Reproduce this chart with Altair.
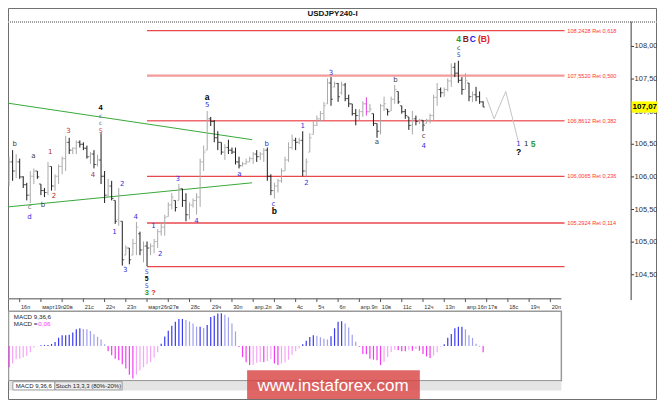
import altair as alt
import pandas as pd

# ---------------- values ----------------
bar_open = [
    105.94, 106.23, 106.09, 106.23, 106.00, 105.88, 105.72, 106.01, 106.09, 105.89,
    105.79, 105.76, 106.16, 105.86, 106.01, 106.16, 106.28, 106.53, 106.41, 106.44,
    106.53, 106.50, 106.44, 106.31, 106.35, 106.19, 106.26, 106.01, 105.72, 105.86,
    105.64, 105.35, 105.32, 104.80, 104.91, 104.80, 104.98, 105.13, 104.88, 104.94,
    104.91, 104.94, 105.01, 105.16, 105.23, 105.39, 105.57, 105.64, 105.64, 105.82,
    105.64, 105.42, 105.57, 105.64, 105.69, 106.23, 106.41, 106.89, 106.85, 106.60,
    106.53, 106.38, 106.45, 106.41, 106.38, 106.23, 106.17, 106.20, 106.23, 106.28,
    106.35, 106.31, 106.35, 106.41, 106.01, 105.79, 105.86, 105.94, 106.09, 106.26,
    106.45, 106.56, 106.53, 106.56, 106.09, 106.38, 106.65, 106.79, 106.89, 106.97,
    107.12, 107.44, 107.38, 107.43, 107.29, 107.41, 107.20, 107.12, 106.97, 106.94,
    107.00, 107.12, 107.00, 106.97, 106.82, 106.70, 107.09, 107.04, 107.01, 107.19,
    107.31, 107.09, 107.00, 106.92, 106.79, 106.89, 106.85, 106.87, 106.82, 106.87,
    106.94, 107.22, 107.34, 107.29, 107.34, 107.47, 107.68, 107.59, 107.48, 107.34,
    107.44, 107.23, 107.26, 107.23, 107.15]
bar_high = [
    106.31, 106.41, 106.35, 106.28, 106.01, 105.91, 106.09, 106.13, 106.09, 105.89,
    105.83, 106.23, 106.16, 106.04, 106.19, 106.31, 106.63, 106.60, 106.45, 106.56,
    106.56, 106.53, 106.48, 106.38, 106.41, 106.34, 106.67, 106.09, 105.97, 105.94,
    105.64, 105.83, 105.32, 104.95, 104.91, 105.05, 105.31, 105.16, 105.01, 105.01,
    104.98, 105.05, 105.20, 105.31, 105.42, 105.61, 105.75, 105.64, 105.89, 105.82,
    105.75, 105.61, 105.67, 105.75, 106.28, 106.48, 107.01, 106.92, 106.87, 106.70,
    106.53, 106.50, 106.57, 106.45, 106.45, 106.31, 106.23, 106.28, 106.31, 106.38,
    106.41, 106.38, 106.44, 106.45, 106.04, 105.91, 105.97, 106.13, 106.31, 106.53,
    106.65, 106.60, 106.60, 106.70, 106.28, 106.67, 106.85, 106.94, 107.01, 107.15,
    107.51, 107.53, 107.46, 107.44, 107.46, 107.44, 107.26, 107.12, 107.04, 107.04,
    107.16, 107.22, 107.12, 106.97, 106.82, 107.12, 107.23, 107.04, 107.23, 107.41,
    107.31, 107.09, 107.04, 106.92, 107.01, 106.94, 106.89, 106.87, 106.89, 106.97,
    107.26, 107.44, 107.37, 107.37, 107.51, 107.74, 107.75, 107.78, 107.53, 107.59,
    107.44, 107.31, 107.38, 107.31, 107.16]
bar_low = [
    105.86, 105.94, 105.98, 105.97, 105.83, 105.64, 105.60, 105.89, 105.97, 105.72,
    105.69, 105.72, 105.79, 105.79, 105.89, 106.04, 106.09, 106.35, 106.35, 106.35,
    106.45, 106.41, 106.28, 106.20, 106.13, 106.16, 105.89, 105.60, 105.69, 105.64,
    105.28, 105.25, 104.64, 104.80, 104.66, 104.80, 104.80, 104.80, 104.69, 104.63,
    104.80, 104.83, 104.91, 105.10, 105.10, 105.39, 105.50, 105.47, 105.64, 105.54,
    105.32, 105.35, 105.53, 105.42, 105.54, 106.09, 106.41, 106.78, 106.53, 106.41,
    106.34, 106.26, 106.35, 106.35, 106.19, 106.13, 106.16, 106.19, 106.23, 106.20,
    106.23, 106.26, 106.23, 105.94, 105.72, 105.67, 105.76, 105.91, 106.09, 106.23,
    106.42, 106.41, 106.50, 106.01, 106.01, 106.38, 106.65, 106.78, 106.85, 106.87,
    107.12, 107.09, 107.37, 107.15, 107.26, 107.16, 107.07, 106.94, 106.79, 106.87,
    106.92, 106.94, 107.00, 106.78, 106.60, 106.65, 107.01, 106.94, 107.01, 107.12,
    107.12, 106.97, 106.89, 106.72, 106.65, 106.79, 106.81, 106.70, 106.82, 106.82,
    106.85, 107.09, 107.22, 107.23, 107.31, 107.38, 107.53, 107.44, 107.26, 107.34,
    107.16, 107.15, 107.16, 107.12, 107.07]
bar_close = [
    106.23, 106.09, 106.23, 106.00, 105.88, 105.72, 106.01, 106.09, 106.00, 105.79,
    105.76, 106.16, 105.86, 106.01, 106.16, 106.28, 106.53, 106.41, 106.44, 106.53,
    106.50, 106.44, 106.31, 106.35, 106.19, 106.26, 106.01, 105.72, 105.86, 105.67,
    105.32, 105.72, 104.73, 104.91, 104.73, 104.98, 105.23, 104.88, 104.94, 104.91,
    104.94, 105.01, 105.16, 105.23, 105.38, 105.57, 105.69, 105.53, 105.82, 105.64,
    105.42, 105.57, 105.64, 105.69, 106.23, 106.38, 106.89, 106.85, 106.60, 106.53,
    106.38, 106.45, 106.41, 106.38, 106.23, 106.17, 106.20, 106.23, 106.28, 106.35,
    106.31, 106.35, 106.41, 106.01, 105.79, 105.86, 105.94, 106.09, 106.26, 106.45,
    106.56, 106.53, 106.56, 106.09, 106.23, 106.60, 106.79, 106.89, 106.97, 107.09,
    107.44, 107.19, 107.43, 107.23, 107.41, 107.20, 107.12, 106.97, 106.94, 107.00,
    107.12, 107.00, 107.04, 106.82, 106.70, 107.09, 107.12, 107.00, 107.19, 107.34,
    107.15, 107.00, 106.94, 106.79, 106.89, 106.85, 106.87, 106.79, 106.87, 106.94,
    107.22, 107.34, 107.29, 107.34, 107.47, 107.68, 107.59, 107.48, 107.34, 107.48,
    107.23, 107.26, 107.23, 107.15, 107.071]
marked_bar = 101  # the one bar drawn in magenta

macd_hist = [
    -0.200, -0.165, -0.126, -0.120, -0.110, -0.096, -0.060, -0.015, -0.003, 0.006,
    0.009, 0.009, 0.018, 0.036, 0.075, 0.100, 0.100, 0.105, 0.126, 0.156,
    0.165, 0.159, 0.156, 0.140, 0.108, 0.084, 0.060, 0.015, -0.051, -0.087,
    -0.120, -0.135, -0.171, -0.213, -0.270, -0.306, -0.270, -0.231, -0.200, -0.171,
    -0.153, -0.111, -0.060, 0.021, 0.087, 0.141, 0.189, 0.225, 0.252, 0.252,
    0.243, 0.228, 0.210, 0.180, 0.180, 0.168, 0.195, 0.270, 0.282, 0.303,
    0.306, 0.291, 0.267, 0.210, 0.135, -0.010, -0.105, -0.153, -0.180, -0.177,
    -0.159, -0.150, -0.150, -0.141, -0.123, -0.165, -0.180, -0.165, -0.156, -0.129,
    -0.084, -0.051, -0.024, 0.015, 0.048, 0.084, 0.099, 0.096, 0.081, 0.066,
    0.060, 0.090, 0.165, 0.225, 0.231, 0.210, 0.171, 0.105, 0.039, -0.009,
    -0.075, -0.078, -0.120, -0.129, -0.135, -0.180, -0.150, -0.105, -0.057, -0.033,
    -0.042, -0.051, -0.051, -0.039, -0.045, -0.030, -0.045, -0.075, -0.099, -0.114,
    -0.090, -0.060, -0.009, 0.015, 0.075, 0.111, 0.165, 0.180, 0.180, 0.156,
    0.099, 0.075, 0.021, -0.006, -0.060]

day_tick_bar = [3, 9, 15, 21, 27, 33, 39, 45, 51, 57, 63, 69, 75, 81, 87, 93, 99,
                105, 111, 117, 123, 129, 135, 141, 147, 153]
day_tick_text = ["16п", "март19п", "20в", "21с", "22ч", "23п", "март26п", "27в", "28с",
                 "29ч", "30п", "апр.2п", "3в", "4с", "5ч", "6п", "апр.9п", "10в", "11с",
                 "12ч", "13п", "апр.16п", "17в", "18с", "19ч", "20п"]

price_ticks = [108.0, 107.5, 107.0, 106.5, 106.0, 105.5, 105.0, 104.5]
price_tick_text = ["108,000", "107,500", "107,000", "106,500", "106,000",
                   "105,500", "105,000", "104,500"]
last_price = 107.071
last_price_text = "107,071"

fib_levels = [108.2428, 107.5520, 106.8612, 106.0065, 105.2924, 104.6250]
fib_text = ["108,2428 Ret 0,618", "107,5520 Ret 0,500", "106,8612 Ret 0,382",
            "106,0065 Ret 0,236", "105,2924 Ret 0,114", ""]
fib_from_bar = 39
fib_to_bar = 157
fib_label_bar = 157.8

trend_upper_bar = [-0.3, 68.7]
trend_upper_price = [107.13, 106.57]
trend_lower_bar = [-0.3, 68.7]
trend_lower_price = [105.54, 105.91]
forecast_bar = [134.9, 137.1, 140.4, 144.0]
forecast_price = [107.22, 106.89, 107.31, 106.53]

# wave labels: position (bar, price), text, colour, font size
wave_bar = [1.6, 6.9, 5.8, 5.8, 9.6, 11.6, 12.7, 16.8, 23.7, 25.9, 25.9, 25.9,
            29.8, 32.0, 32.8, 35.8, 38.9, 38.9, 40.8, 42.7, 47.7, 53.0, 56.0, 65.1,
            72.8, 74.7, 83.0, 84.1, 91.0, 104.0, 109.2, 117.2, 117.2, 127.1, 127.1,
            144.0, 146.2]
wave_price = [106.50, 106.32, 105.54, 105.39, 105.57, 106.38, 105.70, 106.70, 106.03,
              106.94, 106.83, 106.71, 105.16, 105.89, 104.57, 105.38, 104.54, 104.33,
              105.25, 104.82, 105.97, 105.33, 107.10, 106.04, 106.51, 105.59, 106.78,
              105.91, 107.60, 106.53, 107.48, 106.62, 106.48, 107.98, 107.87, 106.50,
              106.50]
wave_text = ["b", "a", "c", "d", "b", "1", "2", "3", "4", "c", "c", "5",
             "1", "2", "3", "4", "5", "5", "1", "2", "3", "4", "5", "a",
             "b", "c", "1", "2", "3", "a", "b", "c", "4", "c", "5", "1", "1"]
wave_color = ["#404040", "#404040", "#707070", "#3030e0", "#404040", "#b03030",
              "#b03030", "#c03030", "#b03030", "#5050e0", "#707070", "#c03030",
              "#3030e0", "#3030e0", "#3030e0", "#3030e0", "#3030e0", "#3030e0",
              "#3030e0", "#3030e0", "#3030e0", "#3030e0", "#3030e0", "#3030e0",
              "#3030e0", "#3030e0", "#3030e0", "#3030e0", "#3030e0", "#404040",
              "#404040", "#404040", "#3030e0", "#202020", "#3030e0", "#3030e0",
              "#202020"]
wave_size = [7, 7, 7, 7, 7, 7, 7, 7, 7, 6, 6, 6.3,
             7, 7, 7, 7, 6.3, 6.3, 7, 7, 7, 7, 7, 7,
             7, 7, 7, 7, 7, 7, 7, 7, 7, 6.2, 6.2, 7, 7]

bold_bar = [25.9, 38.9, 38.9, 40.8, 56.0, 75.0, 127.1, 129.1, 131.1, 134.2, 144.0, 148.1]
bold_price = [107.06, 104.436, 104.215, 104.215, 107.22, 105.47, 108.12, 108.12, 108.12,
              108.12, 106.38, 106.50]
bold_text = ["4", "5", "3", "?", "a", "b", "4", "B", "C", "(B)", "?", "5"]
bold_color = ["#000000", "#000000", "#2a9a2a", "#e02020", "#000000", "#000000",
              "#2a9a2a", "#8b1a1a", "#2020e0", "#e02020", "#000000", "#2a9a2a"]
bold_size = [7.5, 6.8, 7.3, 7.3, 8.5, 8.5, 8.5, 8.5, 8.5, 8.5, 8.5, 8.5]

# ---------------- layout (reference is 665 x 408, drawn into 649 x 392) -------------
W, H = 649, 392
SX, SY = W / 665, H / 408
FONT = "Liberation Sans"

xs = alt.Scale(domain=[-0.3034, 183.145], nice=False, zero=False)
ps = alt.Scale(domain=[102.580, 108.589], nice=False, zero=False)
ms = alt.Scale(domain=[-0.507, 3.165], nice=False, zero=False)


def X(f):
    return alt.X(f, type="quantitative", scale=xs, axis=None)


def Y(f):
    return alt.Y(f, type="quantitative", scale=ps, axis=None)


def YM(f):
    return alt.Y(f, type="quantitative", scale=ms, axis=None)


one = pd.DataFrame({"k": [0]})


def rect(x1, y1, x2, y2, **kw):
    return alt.Chart(one).mark_rect(**kw).encode(
        x=alt.value(x1 * SX), x2=alt.value(x2 * SX),
        y=alt.value(y1 * SY), y2=alt.value(y2 * SY))


def hline(x1, x2, y, **kw):
    return alt.Chart(one).mark_rule(**kw).encode(
        x=alt.value(x1 * SX), x2=alt.value(x2 * SX), y=alt.value(y * SY))


def vline(x, y1, y2, **kw):
    return alt.Chart(one).mark_rule(**kw).encode(
        x=alt.value(x * SX), y=alt.value(y1 * SY), y2=alt.value(y2 * SY))


def label(x, y, text, **kw):
    kw.setdefault("font", FONT)
    kw.setdefault("baseline", "middle")
    return alt.Chart(one).mark_text(text=text, **kw).encode(
        x=alt.value(x * SX), y=alt.value(y * SY))


# ---------------- tables ----------------
n = len(bar_close)
bars = pd.DataFrame({"i": list(range(n)), "o": bar_open, "h": bar_high,
                     "l": bar_low, "c": bar_close})
bars["col"] = ["#a9a9a9" if c >= o else "#1c1c1c" for o, c in zip(bar_open, bar_close)]
bars.loc[marked_bar, "col"] = "#e040e0"

prev = [macd_hist[0]] + macd_hist[:-1]
mcol = []
for v, p in zip(macd_hist, prev):
    if v >= 0:
        mcol.append("#3a3af0" if v >= p else "#a0a0ee")
    else:
        mcol.append("#f23cf2" if v <= p else "#f7a6f7")
macd = pd.DataFrame({"i": list(range(n)), "v": macd_hist, "zero": [0.0] * n, "col": mcol})

fib = pd.DataFrame({"p": fib_levels, "t": fib_text,
                    "a": [fib_from_bar] * len(fib_levels), "b": [fib_to_bar] * len(fib_levels),
                    "lb": [fib_label_bar] * len(fib_levels),
                    "col": ["#e8474c", "#f39a9a", "#ee6a6e", "#e8474c", "#e8474c", "#e8474c"],
                    "sw": [1.2, 2.2, 1.4, 1.2, 1.6, 1.2]})
trend = pd.DataFrame({"i": trend_upper_bar + trend_lower_bar,
                      "p": trend_upper_price + trend_lower_price,
                      "g": ["u", "u", "d", "d"]})
fc = pd.DataFrame({"i": forecast_bar, "p": forecast_price})
waves = pd.DataFrame({"i": wave_bar, "p": wave_price, "t": wave_text, "col": wave_color,
                      "s": wave_size})
bolds = pd.DataFrame({"i": bold_bar, "p": bold_price, "t": bold_text, "col": bold_color,
                      "s": bold_size})
dticks = pd.DataFrame({"i": day_tick_bar, "t": day_tick_text})
pticks = pd.DataFrame({"p": price_ticks, "t": price_tick_text})
lastp = pd.DataFrame({"p": [last_price], "t": [last_price_text]})

layers = []
# frame and header
layers.append(rect(0.5, 0.5, 664.5, 407.5, fill="white", stroke="#6e6e6e", strokeWidth=1))
layers.append(label(332.5, 6.5, "USDJPY240-I", fontSize=8, fontWeight="bold",
                    align="center", color="#111"))
layers.append(hline(0, 665, 14.5, color="#a0a0a0", strokeWidth=2, strokeDash=[1, 1]))

# fibonacci levels
layers.append(alt.Chart(fib).mark_rule().encode(
    x=X("a"), x2=alt.X2("b"), y=Y("p"),
    color=alt.Color("col:N", scale=None), strokeWidth=alt.StrokeWidth("sw:Q", scale=None)))
layers.append(alt.Chart(fib).mark_text(align="left", baseline="middle", font=FONT,
                                       fontSize=5.6, color="#ff3535").encode(
    x=X("lb"), y=Y("p"), text="t:N"))

# trend lines and forecast path
layers.append(alt.Chart(trend).mark_line(color="#3aa83a", strokeWidth=1).encode(
    x=X("i"), y=Y("p"), detail="g:N"))
layers.append(alt.Chart(fc).mark_line(color="#c4c4c4", strokeWidth=1).encode(
    x=X("i"), y=Y("p")))

# OHLC bars
layers.append(alt.Chart(bars).mark_rule(strokeWidth=1).encode(
    x=X("i"), y=Y("h"), y2=alt.Y2("l"), color=alt.Color("col:N", scale=None)))
layers.append(alt.Chart(bars).mark_tick(orient="horizontal", size=1.8, thickness=1,
                                        xOffset=-1.0).encode(
    x=X("i"), y=Y("o"), color=alt.Color("col:N", scale=None)))
layers.append(alt.Chart(bars).mark_tick(orient="horizontal", size=1.8, thickness=1,
                                        xOffset=1.0).encode(
    x=X("i"), y=Y("c"), color=alt.Color("col:N", scale=None)))

# wave labels
layers.append(alt.Chart(waves).mark_text(font="DejaVu Sans", baseline="middle",
                                         align="center").encode(
    x=X("i"), y=Y("p"), text="t:N", color=alt.Color("col:N", scale=None),
    size=alt.Size("s:Q", scale=None)))
layers.append(alt.Chart(bolds).mark_text(font=FONT, fontWeight="bold",
                                         baseline="middle", align="center").encode(
    x=X("i"), y=Y("p"), text="t:N", color=alt.Color("col:N", scale=None),
    size=alt.Size("s:Q", scale=None)))

# price scale on the right
layers.append(vline(638.5, 14, 304, color="#3c3c3c", strokeWidth=1))
layers.append(alt.Chart(pticks).mark_rule(color="#3c3c3c").encode(
    x=alt.value(638.5 * SX), x2=alt.value(641.5 * SX), y=Y("p")))
layers.append(alt.Chart(pticks).mark_text(align="left", baseline="middle", font=FONT,
                                          fontSize=7.5, color="#333").encode(
    x=alt.value(642 * SX), y=Y("p"), text="t:N"))
layers.append(alt.Chart(lastp).mark_rect(color="#ffff00", yOffset=-5.6, y2Offset=5.6).encode(
    x=alt.value(639 * SX), x2=alt.value(W), y=Y("p"), y2=alt.Y2("p")))
layers.append(alt.Chart(lastp).mark_text(align="left", baseline="middle", font=FONT,
                                         fontSize=8, fontWeight="bold", color="#000").encode(
    x=alt.value(640 * SX), y=Y("p"), text="t:N"))

# time axis
layers.append(hline(0, 567, 302.5, color="#8a8a8a", strokeWidth=1.5))
layers.append(alt.Chart(dticks).mark_rule(color="#555", strokeWidth=1).encode(
    x=X("i"), y=alt.value(302.5 * SY), y2=alt.value(306 * SY)))
layers.append(alt.Chart(dticks).mark_text(align="left", baseline="middle", font=FONT,
                                          fontSize=5.6, dx=1.3, color="#333").encode(
    x=X("i"), y=alt.value(311 * SY), text="t:N"))

# MACD panel
layers.append(rect(0.5, 315.5, 567, 388, fill="white", fillOpacity=0,
                   stroke="#9a9a9a", strokeWidth=1.5))
layers.append(alt.Chart(macd).mark_rule(strokeWidth=1.2).encode(
    x=X("i"), y=YM("zero"), y2=alt.Y2("v"), color=alt.Color("col:N", scale=None)))
layers.append(label(6, 321.2, "MACD 9,36,6", fontSize=6.2, align="left", color="#222"))
layers.append(label(6, 328.8, "MACD =", fontSize=6.2, align="left", color="#222"))
layers.append(label(29, 328.8, "-0,06", fontSize=6.2, align="left", color="#ff33ff"))

# indicator tabs
layers.append(rect(1, 388.5, 567, 398, fill="#e4e4e4"))
layers.append(rect(5, 389, 48, 397.5, fill="#ffffff", stroke="#8a8a8a", strokeWidth=0.8))
layers.append(rect(48, 389, 117, 397.5, fill="#ececec", stroke="#8a8a8a", strokeWidth=0.8))
layers.append(label(26.5, 393.3, "MACD 9,36,6", fontSize=6, align="center", color="#222"))
layers.append(label(82.5, 393.3, "Stoch 13,3,3 (80%-20%)", fontSize=6, align="center",
                    color="#222"))

# watermark
layers.append(rect(245, 377, 422, 407, fill="#d94444", opacity=0.82))
layers.append(label(333, 393, "www.instaforex.com", fontSize=17, align="center",
                    color="#ffffff"))

chart = alt.layer(*layers).resolve_scale(
    y="independent", color="independent", strokeWidth="independent", size="independent"
).properties(
    width=W, height=H, padding=0, autosize=alt.AutoSizeParams(type="none"),
    background="white"
).configure_view(strokeWidth=0)

chart.save("out.html", embed_options={"renderer": "svg", "actions": False})
